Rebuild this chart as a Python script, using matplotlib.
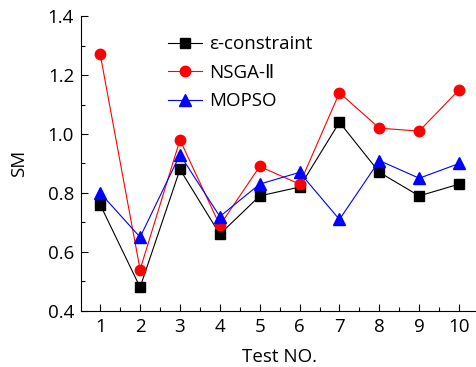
import matplotlib.pyplot as plt
import numpy as np

# Data
tests = [1, 2, 3, 4, 5, 6, 7, 8, 9, 10]
eps_constraint = [0.76, 0.48, 0.88, 0.66, 0.79, 0.82, 1.04, 0.87, 0.79, 0.83]
nsga2 = [1.27, 0.54, 0.98, 0.69, 0.89, 0.83, 1.14, 1.02, 1.01, 1.15]
mopso = [0.80, 0.65, 0.93, 0.72, 0.83, 0.87, 0.71, 0.91, 0.85, 0.90]

plt.rcParams['font.family'] = ['Open Sans', 'DejaVu Sans']

fig = plt.figure(figsize=(4.77, 3.67), dpi=100)
ax = fig.add_axes([0.170, 0.153, 0.83, 0.803])

ax.plot(tests, eps_constraint, color='black', lw=0.8, marker='s', ms=7,
        label='\u03b5-constraint')
ax.plot(tests, nsga2, color='red', lw=0.8, marker='o', ms=7.5,
        label='NSGA-\u2161')
ax.plot(tests, mopso, color='blue', lw=0.8, marker='^', ms=8,
        label='MOPSO')

ax.set_xlim(0.52, 10.45)
ax.set_ylim(0.4, 1.4)
ax.set_xticks(tests)
ax.set_xticks(np.arange(1.5, 10.5, 1), minor=True)
ax.set_yticks([0.4, 0.6, 0.8, 1.0, 1.2, 1.4])
ax.set_yticks([0.5, 0.7, 0.9, 1.1, 1.3], minor=True)
ax.yaxis.set_major_formatter(plt.FormatStrFormatter('%.1f'))
ax.tick_params(direction='in', which='major', length=5, width=0.8,
               labelsize=13.5, pad=5)
ax.tick_params(direction='in', which='minor', length=3, width=0.8)
ax.spines['top'].set_visible(False)
ax.spines['right'].set_visible(False)

ax.set_xlabel('Test NO.', fontsize=13.5, labelpad=9)
ax.set_ylabel('SM', fontsize=13.5, labelpad=14)

ax.legend(loc='upper left', bbox_to_anchor=(0.177, 0.993), frameon=False,
          fontsize=13.5, handlelength=1.8, handletextpad=0.4, labelspacing=0.57)

fig.savefig('out.png', dpi=100)
